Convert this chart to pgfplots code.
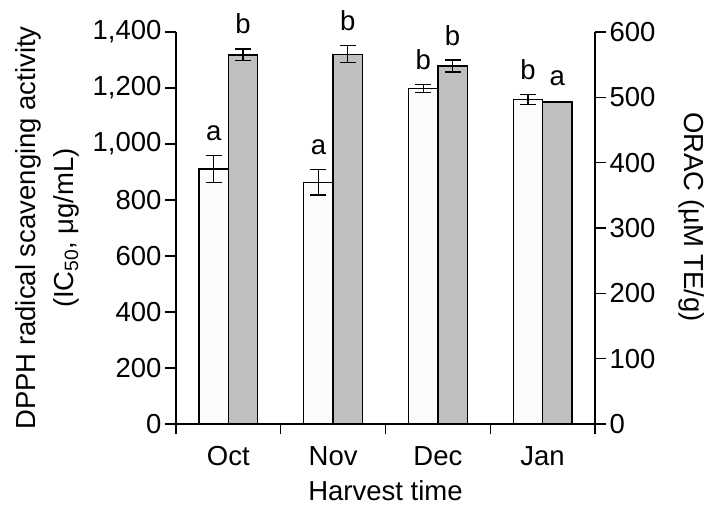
\documentclass[border=0pt]{standalone}
\usepackage{fontspec}
\setmainfont{Liberation Sans}
\usepackage{pgfplots}
\pgfplotsset{compat=1.18}
\definecolor{barwhite}{RGB}{252,252,252}
\definecolor{bargray}{RGB}{191,191,191}
\newcommand{\bigfont}{\fontsize{27.5bp}{38bp}\selectfont}
\begin{document}
\begin{tikzpicture}
\pgfplotsset{
  common/.style={
    scale only axis, width=419bp, height=392bp,
    xmin=-0.5, xmax=3.5,
    at={(0,0)}, anchor=south west,
    font=\bigfont,
    /pgf/number format/assume math mode=true,
    axis line style={line width=1.3bp, black},
    tick style={line width=1.3bp, black},
    major tick length=11bp,
    minor tick length=10bp,
    clip=false,
  },
  barstyle/.style={ybar, bar width=29.3bp, bar shift=0pt, draw=black, line width=1.3bp},
  errstyle/.style={error bars/.cd, y dir=both, y explicit,
    error bar style={line width=1.3bp, black},
    error mark options={rotate=90, mark size=8bp, line width=1.3bp, black}},
}
\begin{axis}[common,
  axis y line*=left, axis x line*=bottom,
  tick align=outside,
  ymin=0, ymax=1400, ytick={0,200,...,1400},
  /pgf/number format/1000 sep={,},
  xtick={0,1,2,3}, xticklabels={Oct,Nov,Dec,Jan},
  minor xtick={-0.5,0.5,1.5,2.5,3.5},
  major x tick style={draw=none},
  xticklabel style={text height=20bp, text depth=0pt, yshift=-7bp},
  xlabel={Harvest time},
  ylabel={DPPH radical scavenging activity\\(IC\textsubscript{50}, μg/mL)},
  ylabel style={align=center, font=\bigfont, yshift=7bp},
  xlabel style={font=\bigfont, yshift=-8bp},
]
\addplot[barstyle, fill=barwhite, errstyle]
  coordinates {(-0.14,911) +- (0,48) (0.86,863) +- (0,45) (1.86,1199) +- (0,14) (2.86,1160) +- (0,18)};
\node[font=\bigfont, anchor=base, yshift=15bp] at (axis cs:-0.14,959) {a};
\node[font=\bigfont, anchor=base, yshift=15bp] at (axis cs:0.86,908) {a};
\node[font=\bigfont, anchor=base, yshift=15bp] at (axis cs:1.86,1213) {b};
\node[font=\bigfont, anchor=base, yshift=15bp] at (axis cs:2.86,1178) {b};
\end{axis}
\begin{axis}[common,
  axis y line*=right, axis x line=none,
  tick align=outside,
  ymin=0, ymax=600, ytick={0,100,...,600},
  ylabel={ORAC (µM TE/g)},
  ylabel style={rotate=180, font=\bigfont, yshift=17bp, xshift=-11bp},
]
\addplot[barstyle, fill=bargray, errstyle]
  coordinates {(0.14,565) +- (0,9) (1.14,566) +- (0,13) (2.14,548) +- (0,9)};
\addplot[barstyle, fill=bargray]
  coordinates {(3.14,493)};
\node[font=\bigfont, anchor=base, yshift=15bp] at (axis cs:0.14,574) {b};
\node[font=\bigfont, anchor=base, yshift=15bp] at (axis cs:1.14,579) {b};
\node[font=\bigfont, anchor=base, yshift=15bp] at (axis cs:2.14,557) {b};
\node[font=\bigfont, anchor=base, yshift=16bp] at (axis cs:3.14,493) {a};
\end{axis}
\pgfresetboundingbox
\useasboundingbox (-176bp,-97bp) rectangle (542bp,424bp);
\end{tikzpicture}
\end{document}
